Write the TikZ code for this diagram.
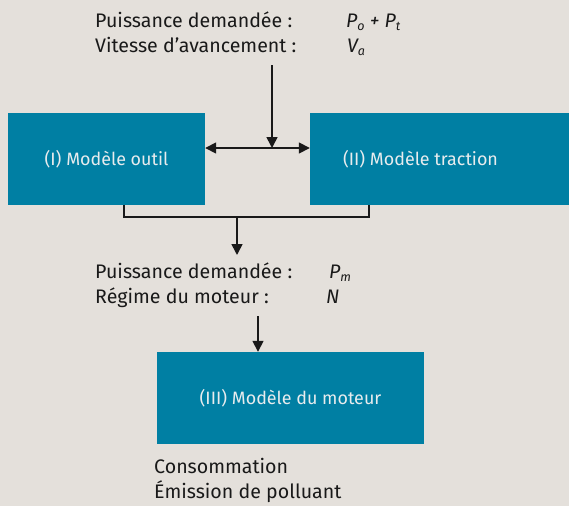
\documentclass[tikz,border=0pt]{standalone}
\usepackage{fontspec}
\setmainfont{Fira Sans}
\usetikzlibrary{arrows.meta}
\definecolor{bg}{HTML}{E4E0DB}
\definecolor{boxc}{HTML}{007FA3}
\definecolor{boxtext}{HTML}{E8ECEE}
\newcommand\mysub[1]{\raisebox{-0.35ex}{\fontsize{12.5}{12.5}\selectfont\itshape #1}}
\begin{document}
\begin{tikzpicture}[x=1pt,y=-1pt,
  every node/.style={font=\fontsize{19.6}{22}\selectfont, text=black!90},
  model/.style={fill=boxc, draw=none, inner sep=0pt},
  boxlabel/.style={text=boxtext, font=\fontsize{17.9}{20}\selectfont},
  lbl/.style={anchor=base west, inner sep=0pt},
  conn/.style={line width=1.6pt, draw=black!90},
  arr/.style={conn, -{Triangle[length=11pt,width=11pt]}},
  darr/.style={conn, {Triangle[length=11pt,width=11pt]}-{Triangle[length=11pt,width=11pt]}}]
\fill[bg] (0,0) rectangle (569,506);
\useasboundingbox (0,0) rectangle (569,506);
% boxes
\node[model, minimum width=197pt, minimum height=92pt] (I) at (106.5,159) {};
\node[model, minimum width=259pt, minimum height=92pt] (II) at (439.5,159) {};
\node[model, minimum width=267pt, minimum height=92pt] (III) at (290.5,398) {};
\node[boxlabel] (Ilbl) at (106.5,159) {(I) Modèle outil};
\node[boxlabel] (IIlbl) at (420.5,159) {(II) Modèle traction};
\node[boxlabel] (IIIlbl) at (290.5,398) {(III) Modèle du moteur};
% top text
\node[lbl] (t1) at (95,27) {Puissance demandée :};
\node[lbl] (t2) at (95,52) {Vitesse d’avancement :};
\node[lbl] (t1v) at (346,27) {\itshape P\mysub{o} + P\mysub{t}};
\node[lbl] (t2v) at (347,52) {\itshape V\mysub{a}};
% middle text
\node[lbl] (m1) at (95,278) {Puissance demandée :};
\node[lbl] (m2) at (95,303) {Régime du moteur :};
\node[lbl] (m1v) at (329,278) {\itshape P\mysub{m}};
\node[lbl] (m2v) at (326,303) {\itshape N};
% bottom text
\node[lbl] (b1) at (154,473) {Consommation};
\node[lbl] (b2) at (154,498) {Émission de polluant};
% connectors
\coordinate (top) at (272,65);
\coordinate (split) at (272,148);
\coordinate (join) at (237,217);
\coordinate (midin) at (237,255);
\coordinate (midout) at (258,316);
\draw[arr] (top) -- (split);
\draw[darr] (I.east |- split) -- (II.west |- split);
\draw[conn] (I.south -| 124,0) |- (join) -| (II.south -| 369,0);
\draw[arr] (join) -- (midin);
\draw[arr] (midout) -- (III.north -| midout);
\end{tikzpicture}
\end{document}
